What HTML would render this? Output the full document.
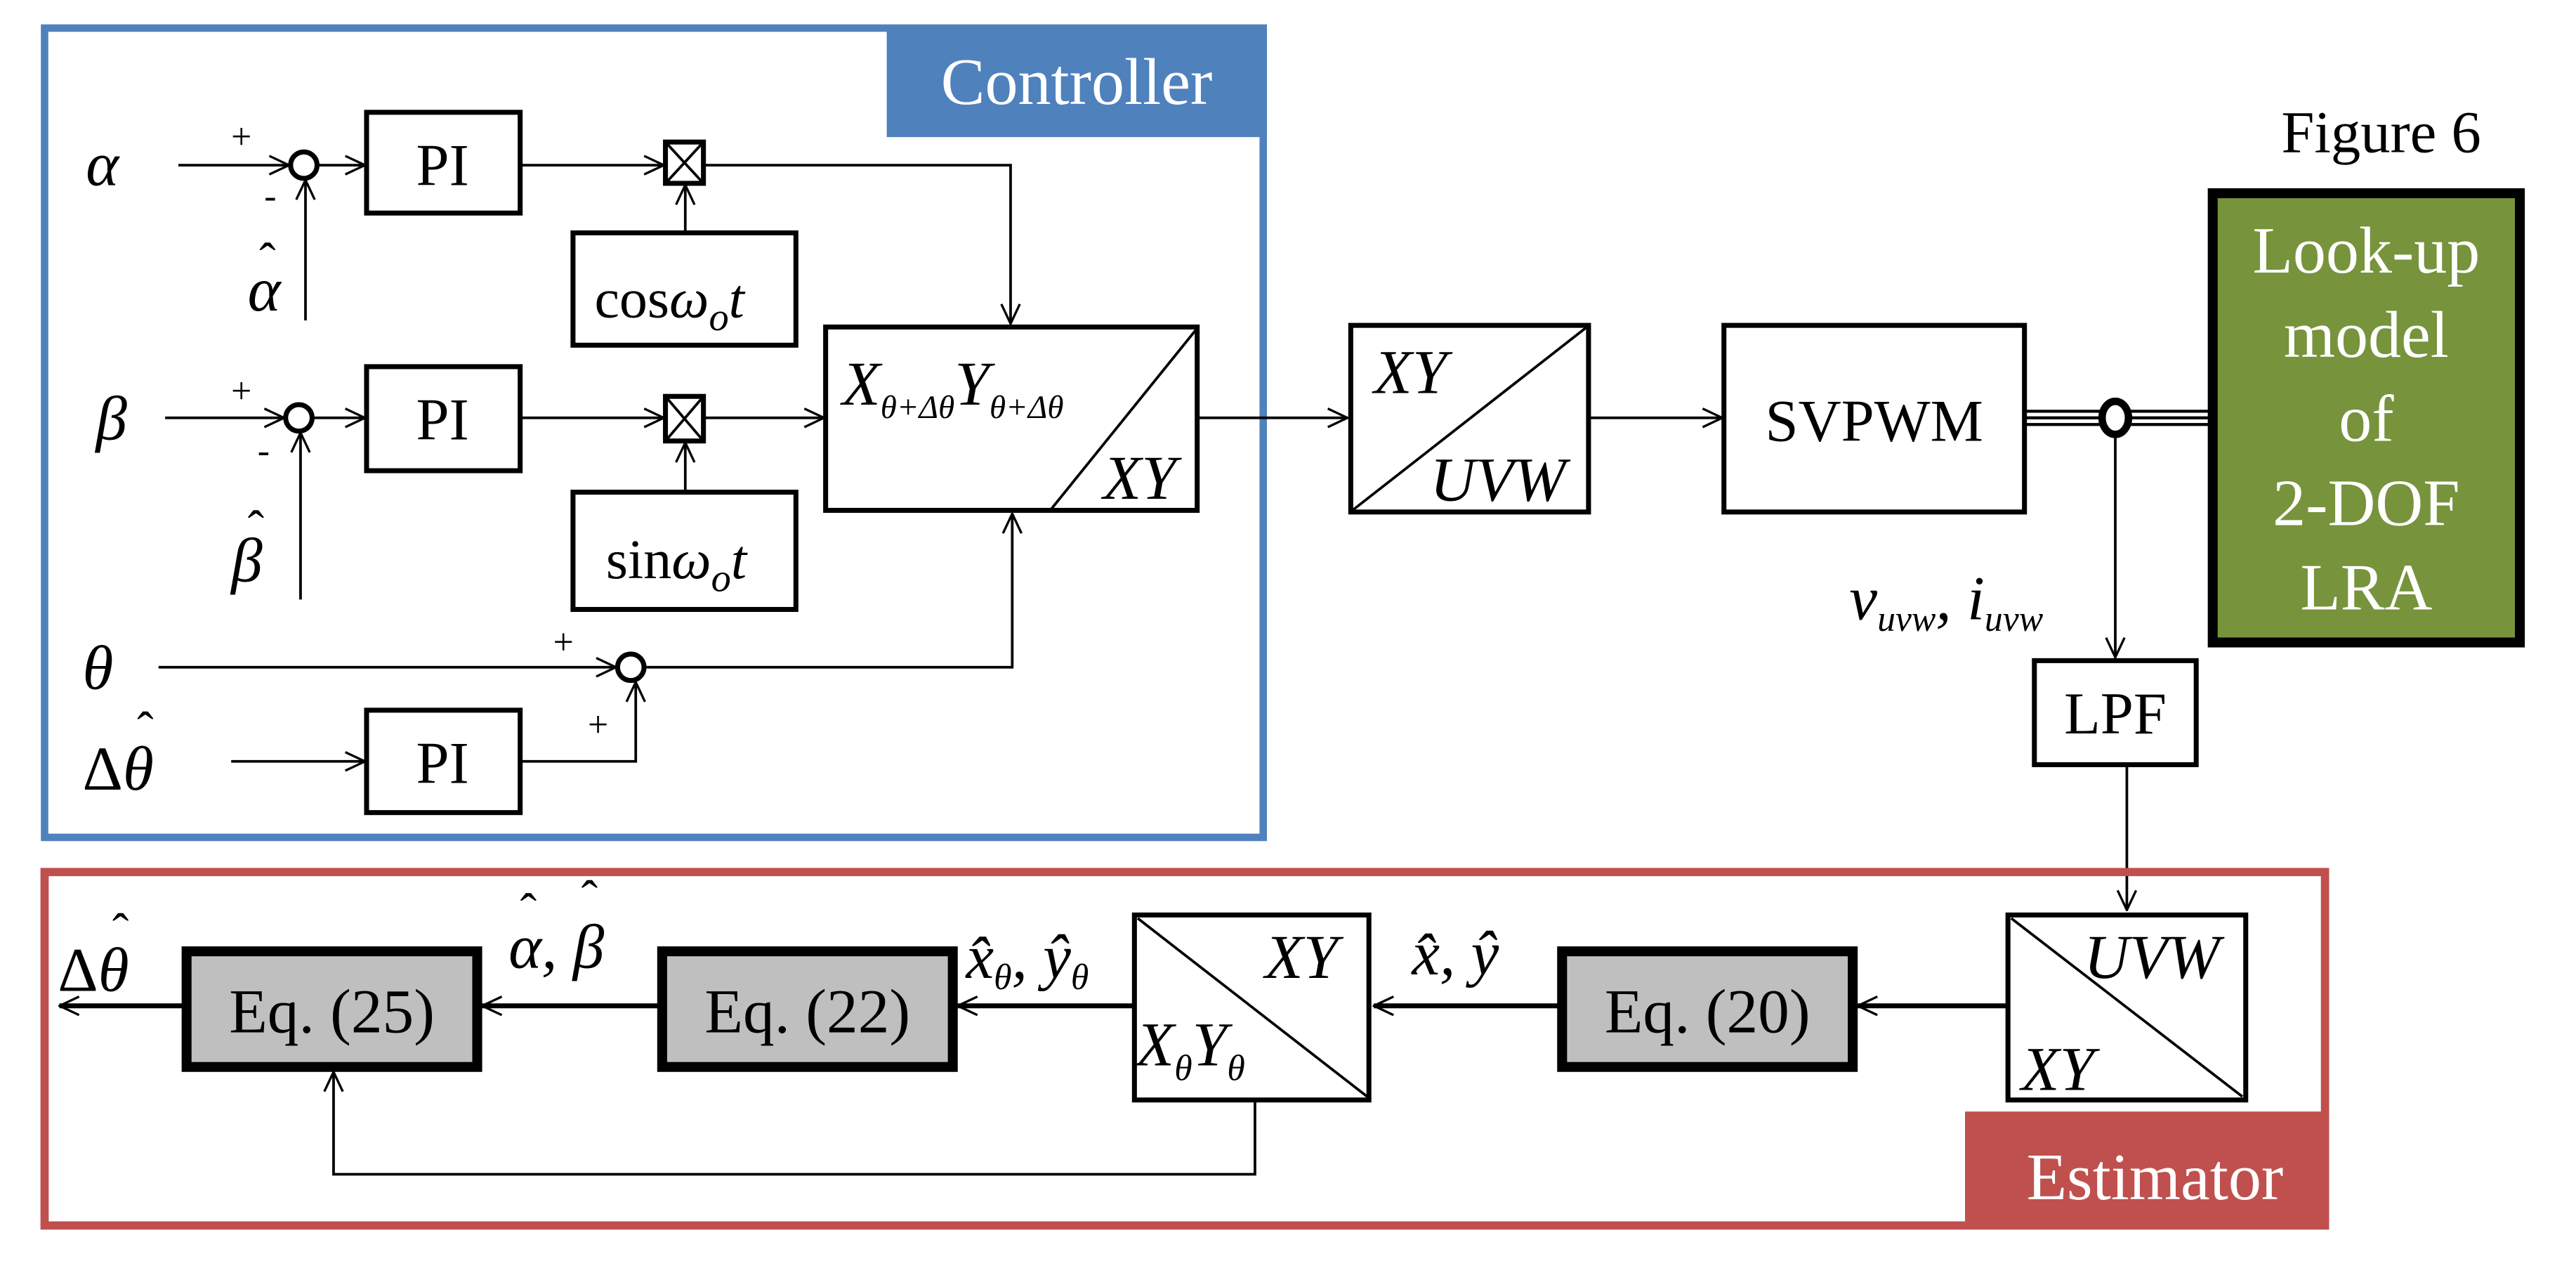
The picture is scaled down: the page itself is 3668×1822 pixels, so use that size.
<!DOCTYPE html>
<html><head><meta charset="utf-8"><style>
html,body{margin:0;padding:0;background:#fff;}
svg{display:block;}
text{font-family:"Liberation Serif",serif;}
.it{font-style:italic;}
</style></head><body>
<svg width="3668" height="1822" viewBox="0 0 1560 775" preserveAspectRatio="none" xmlns="http://www.w3.org/2000/svg">
<defs>
<marker id="a" viewBox="0 0 20 20" refX="19" refY="10" markerWidth="14" markerHeight="14" markerUnits="userSpaceOnUse" orient="auto">
<path d="M2,2 L19,10 L2,18" fill="none" stroke="#000" stroke-width="2"/>
</marker>
</defs>
<g fill="none" stroke="#000" stroke-width="1.6">
<rect x="27" y="17" width="738" height="490" stroke="#4f81bd" stroke-width="4.5"/>
<rect x="537" y="15" width="230" height="68" fill="#4f81bd" stroke="none"/>
<line x1="108" y1="100" x2="175" y2="100" marker-end="url(#a)"/>
<circle cx="184" cy="100" r="8" stroke-width="3"/>
<line x1="185" y1="194" x2="185" y2="109" marker-end="url(#a)"/>
<line x1="192" y1="100" x2="221" y2="100" marker-end="url(#a)"/>
<rect x="222" y="68" width="93" height="61" stroke-width="3"/>
<line x1="315" y1="100" x2="402" y2="100" marker-end="url(#a)"/>
<rect x="403" y="86" width="23" height="25" stroke-width="3"/>
<path d="M403,86 L426,111 M426,86 L403,111"/>
<line x1="415" y1="140" x2="415" y2="112" marker-end="url(#a)"/>
<rect x="347" y="141" width="135" height="68" stroke-width="3"/>
<polyline points="426,100 612,100 612,196" marker-end="url(#a)"/>
<rect x="500" y="198" width="225" height="111" stroke-width="3"/>
<line x1="636" y1="309" x2="724" y2="200"/>
<line x1="100" y1="253" x2="172" y2="253" marker-end="url(#a)"/>
<circle cx="181" cy="253" r="8" stroke-width="3"/>
<line x1="182" y1="363" x2="182" y2="262" marker-end="url(#a)"/>
<line x1="189" y1="253" x2="221" y2="253" marker-end="url(#a)"/>
<rect x="222" y="222" width="93" height="63" stroke-width="3"/>
<line x1="315" y1="253" x2="402" y2="253" marker-end="url(#a)"/>
<rect x="403" y="240" width="23" height="27" stroke-width="3"/>
<path d="M403,240 L426,267 M426,240 L403,267"/>
<line x1="415" y1="297" x2="415" y2="268" marker-end="url(#a)"/>
<rect x="347" y="298" width="135" height="71" stroke-width="3"/>
<line x1="426" y1="253" x2="499" y2="253" marker-end="url(#a)"/>
<line x1="96" y1="404" x2="373" y2="404" marker-end="url(#a)"/>
<circle cx="382" cy="404" r="8" stroke-width="3"/>
<polyline points="390,404 613,404 613,311" marker-end="url(#a)"/>
<line x1="140" y1="461" x2="221" y2="461" marker-end="url(#a)"/>
<rect x="222" y="430" width="93" height="62" stroke-width="3"/>
<polyline points="315,461 385,461 385,413" marker-end="url(#a)"/>
<line x1="725" y1="253" x2="816" y2="253" marker-end="url(#a)"/>
<rect x="818" y="197" width="144" height="113" stroke-width="3"/>
<line x1="819" y1="309" x2="961" y2="198"/>
<line x1="962" y1="253" x2="1043" y2="253" marker-end="url(#a)"/>
<rect x="1044" y="197" width="182" height="113" stroke-width="3"/>
<path d="M1226,249 H1340 M1226,253 H1340 M1226,257 H1340" stroke-width="1.8"/>
<ellipse cx="1281" cy="253" rx="8" ry="10" stroke-width="4.5" fill="#fff"/>
<line x1="1281" y1="263" x2="1281" y2="398" marker-end="url(#a)"/>
<rect x="1340" y="117" width="186" height="272" fill="#77933c" stroke-width="6"/>
<rect x="1232" y="400" width="98" height="63" stroke-width="3"/>
<line x1="1288" y1="463" x2="1288" y2="551" marker-end="url(#a)"/>
<rect x="27" y="528" width="1381" height="214" stroke="#c0504d" stroke-width="5"/>
<rect x="1190" y="673" width="220" height="71" fill="#c0504d" stroke="none"/>
<rect x="1216" y="554" width="144" height="112" stroke-width="3"/>
<line x1="1218" y1="556" x2="1358" y2="664"/>
<line x1="1216" y1="609" x2="1125" y2="609" marker-end="url(#a)" stroke-width="3"/>
<rect x="946" y="576" width="176" height="70" fill="#bfbfbf" stroke-width="6"/>
<line x1="945" y1="609" x2="832" y2="609" marker-end="url(#a)" stroke-width="3"/>
<rect x="687" y="554" width="142" height="112" stroke-width="3"/>
<line x1="689" y1="556" x2="828" y2="664"/>
<line x1="686" y1="609" x2="580" y2="609" marker-end="url(#a)" stroke-width="3"/>
<rect x="401" y="576" width="176" height="70" fill="#bfbfbf" stroke-width="6"/>
<line x1="400" y1="609" x2="292" y2="609" marker-end="url(#a)" stroke-width="3"/>
<rect x="113" y="576" width="176" height="70" fill="#bfbfbf" stroke-width="6"/>
<line x1="112" y1="609" x2="36" y2="609" marker-end="url(#a)" stroke-width="3"/>
<polyline points="760,666 760,711 202,711 202,649" marker-end="url(#a)"/>
</g>
<g fill="#000">
<text x="652" y="63" font-size="40" fill="#fff" text-anchor="middle">Controller</text>
<text x="1305" y="726" font-size="40" fill="#fff" text-anchor="middle">Estimator</text>
<text x="1442" y="92" font-size="36" text-anchor="middle">Figure 6</text>
<g fill="#fff" font-size="40" text-anchor="middle">
<text x="1433" y="165">Look-up</text>
<text x="1433" y="216">model</text>
<text x="1433" y="267">of</text>
<text x="1433" y="318">2-DOF</text>
<text x="1433" y="369">LRA</text>
</g>
<g font-size="36" text-anchor="middle">
<text x="268" y="112">PI</text>
<text x="268" y="266">PI</text>
<text x="268" y="474">PI</text>
<text x="1135" y="267">SVPWM</text>
<text x="1281" y="444">LPF</text>
</g>
<g font-size="38" text-anchor="middle">
<text x="201" y="625">Eq. (25)</text>
<text x="489" y="625">Eq. (22)</text>
<text x="1034" y="625">Eq. (20)</text>
</g>
<text x="360" y="192" font-size="34">cos<tspan class="it">ω</tspan><tspan class="it" font-size="24" dy="8">o</tspan><tspan class="it" dy="-8">t</tspan></text>
<text x="367" y="350" font-size="34">sin<tspan class="it">ω</tspan><tspan class="it" font-size="24" dy="8">o</tspan><tspan class="it" dy="-8">t</tspan></text>
<g class="it" font-size="38">
<text x="52" y="112">α</text>
<text x="150" y="188">α</text>
<text x="58" y="266">β</text>
<text x="140" y="352">β</text>
<text x="50" y="417">θ</text>
<text x="50" y="478"><tspan font-style="normal">Δ</tspan>θ</text>
<text x="510" y="245">X<tspan font-size="20" dy="8">θ+Δθ</tspan><tspan dy="-8">Y</tspan><tspan font-size="20" dy="8">θ+Δθ</tspan></text>
<text x="668" y="302">XY</text>
<text x="832" y="238">XY</text>
<text x="866" y="303">UVW</text>
<text x="1120" y="375">v<tspan font-size="22" dy="7">uvw</tspan><tspan dy="-7">, i</tspan><tspan font-size="22" dy="7">uvw</tspan></text>
<text x="1262" y="592">UVW</text>
<text x="1224" y="660">XY</text>
<text x="766" y="592">XY</text>
<text x="688" y="645">X<tspan font-size="22" dy="9">θ</tspan><tspan dy="-9">Y</tspan><tspan font-size="22" dy="9">θ</tspan></text>
<text x="585" y="592">x̂<tspan font-size="22" dy="7">θ</tspan><tspan dy="-7">, ŷ</tspan><tspan font-size="22" dy="7">θ</tspan></text>
<text x="855" y="590">x̂, ŷ</text>
<text x="308" y="586">α, β</text>
<text x="35" y="600"><tspan font-style="normal">Δ</tspan>θ</text>
</g>
<g font-size="30" font-style="normal">
<text x="157" y="168">ˆ</text>
<text x="150" y="330">ˆ</text>
<text x="83" y="452">ˆ</text>
<text x="68" y="574">ˆ</text>
<text x="315" y="562">ˆ</text>
<text x="352" y="554">ˆ</text>
</g>
<g font-size="22">
<text x="140" y="90">+</text>
<text x="160" y="126">-</text>
<text x="140" y="244">+</text>
<text x="156" y="280">-</text>
<text x="335" y="396">+</text>
<text x="356" y="446">+</text>
</g>
</g>
</svg>
</body></html>
